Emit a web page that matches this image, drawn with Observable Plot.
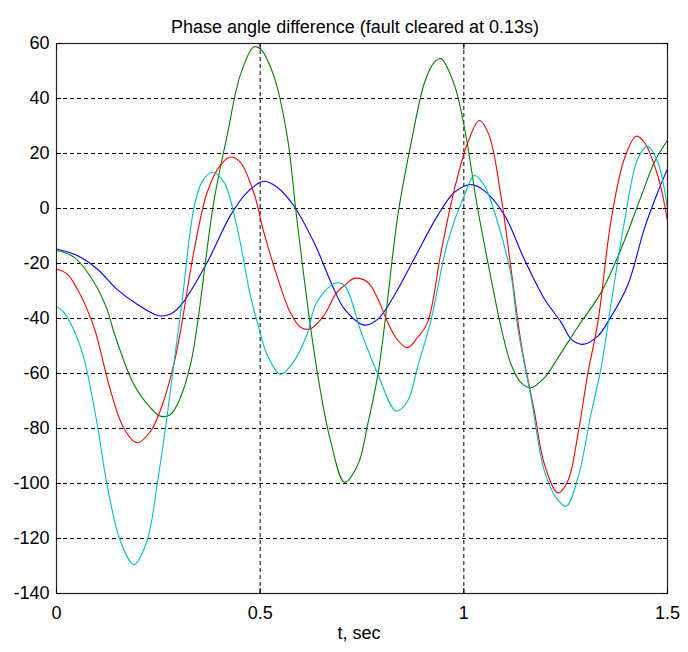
<!DOCTYPE html>
<html>
<head>
<meta charset="utf-8">
<script src="https://cdn.jsdelivr.net/npm/d3@7"></script>
<script src="https://cdn.jsdelivr.net/npm/@observablehq/plot@0.6"></script>
<style>
  html, body { margin: 0; padding: 0; background: #fff; }
</style>
</head>
<body>
<div id="chart"></div>
<script>
const titleText = "Phase angle difference (fault cleared at 0.13s)";
const xLabelText = "t, sec";
const xTicks = [0, 0.5, 1, 1.5];
const yTicks = [-140, -120, -100, -80, -60, -40, -20, 0, 20, 40, 60];

const blueT = [0,0.051,0.1,0.148,0.197,0.251,0.28,0.308,0.37,0.427,0.468,0.509,0.541,0.582,0.632,0.681,0.707,0.756,0.789,0.829,0.878,0.936,0.977,1.018,1.05,1.1,1.148,1.198,1.239,1.264,1.292,1.329,1.353,1.402,1.443,1.476,1.5];
const blueV = [-14.7,-17.1,-22,-29.3,-34.7,-39,-38.4,-34.7,-19.6,-2.5,5.9,9.9,7.8,1.1,-12.3,-29.3,-36.6,-42.4,-40.2,-31.7,-18.3,-2.5,5.9,8.7,6.5,-2.5,-18.3,-32.9,-41.4,-47.6,-49.4,-46.4,-41.4,-28,-7.4,5.9,14.4];

const greenT = [0,0.043,0.092,0.124,0.141,0.19,0.231,0.255,0.28,0.304,0.329,0.345,0.386,0.419,0.451,0.484,0.5,0.533,0.566,0.59,0.623,0.648,0.673,0.707,0.74,0.764,0.789,0.805,0.838,0.871,0.904,0.928,0.944,0.977,1.002,1.034,1.067,1.091,1.116,1.141,1.165,1.198,1.231,1.28,1.337,1.386,1.436,1.468,1.5];
const greenV = [-15.3,-17.7,-26.8,-36.6,-45,-64,-72.5,-75.5,-74.9,-68.8,-56.7,-43,2.3,26.6,48.4,58.7,58.1,48.4,26.6,-3.8,-42.4,-66.4,-84.6,-99.5,-93.1,-78.5,-60.3,-43,-2.5,24.1,46,53.3,54.5,44.8,29,-0.1,-25.6,-43,-56.7,-63.4,-65.2,-61.5,-54.3,-43,-30.5,-14.7,4.7,16.9,24.8];

const redT = [0,0.026,0.051,0.075,0.096,0.108,0.133,0.165,0.197,0.231,0.263,0.288,0.304,0.337,0.37,0.402,0.427,0.451,0.484,0.509,0.541,0.574,0.599,0.623,0.656,0.688,0.707,0.731,0.764,0.789,0.813,0.838,0.862,0.886,0.911,0.944,0.977,1.01,1.038,1.062,1.091,1.116,1.141,1.173,1.198,1.231,1.255,1.28,1.304,1.329,1.362,1.394,1.423,1.443,1.476,1.5];
const redV = [-22,-23.8,-29.3,-36.6,-45,-51.9,-66.4,-79.8,-85.2,-81,-70,-56.7,-45,-15.9,5.9,15.7,18.7,16.9,5.9,-8.6,-24.4,-37.8,-43.2,-43.8,-39,-30.5,-28,-25.4,-26.8,-32.9,-41.4,-48,-50.6,-47,-41.4,-15.9,7.1,24.1,32,26.6,4.7,-22,-49.4,-73.7,-93.1,-103.4,-99.2,-82.2,-60.3,-41.4,-3.8,18.1,26.3,24.1,12,-4.4];

const cyanT = [0,0.018,0.043,0.067,0.1,0.124,0.157,0.19,0.222,0.247,0.271,0.288,0.308,0.337,0.357,0.382,0.411,0.444,0.476,0.497,0.517,0.55,0.583,0.615,0.639,0.685,0.707,0.748,0.789,0.834,0.862,0.886,0.92,0.96,1.001,1.026,1.05,1.083,1.116,1.133,1.165,1.198,1.227,1.251,1.28,1.312,1.337,1.362,1.394,1.427,1.451,1.476,1.5];
const cyanV = [-35.6,-37.8,-44.4,-54.3,-78.5,-100.4,-121,-129.5,-121,-100.4,-76.1,-56.7,-34.1,-0.1,9.6,13.2,9.6,-7.4,-31.7,-43.5,-53.1,-60.3,-55.5,-45.8,-34.1,-27.1,-28,-45,-60.3,-73.7,-70,-57.9,-40.2,-12.3,4.7,12,8.4,-5,-24.4,-44,-68.8,-95.6,-105.2,-108.3,-98,-74.9,-57.9,-34.1,-5,18.1,22.6,16.9,-0.1];

const series = [
  {t: blueT, v: blueV, color: "#0000ff"},
  {t: greenT, v: greenV, color: "#008000"},
  {t: redT, v: redV, color: "#ff0000"},
  {t: cyanT, v: cyanV, color: "#00bfbf"}
];

const font = "'Liberation Sans', Arial, Helvetica, sans-serif";
const noText = () => "";

const chart = Plot.plot({
  width: 688,
  height: 652,
  marginLeft: 56,
  marginRight: 21,
  marginTop: 43,
  marginBottom: 59,
  style: {fontFamily: font, fontSize: "18px", background: "#fff", color: "#000", overflow: "visible"},
  x: {domain: [0, 1.5], label: null},
  y: {domain: [-140, 60], label: null},
  marks: [
    Plot.gridX(xTicks, {stroke: "#000", strokeOpacity: 1, strokeWidth: 1, strokeDasharray: "4,3"}),
    Plot.gridY(yTicks, {stroke: "#000", strokeOpacity: 1, strokeWidth: 1, strokeDasharray: "4,3"}),
    ...series.map(s => Plot.line(s.v, {x: s.t, y: s.v, stroke: s.color, strokeWidth: 1.1, curve: "catmull-rom"})),
    Plot.frame({stroke: "#222", strokeWidth: 1.2}),
    Plot.axisX(xTicks, {anchor: "bottom", tickSize: 0, tickPadding: 13, fontSize: 18, label: null, tickFormat: d => String(d)}),
    Plot.axisY(yTicks, {anchor: "left", tickSize: 0, tickPadding: 7, fontSize: 18, label: null, tickFormat: d => String(d)}),
    Plot.axisX(xTicks, {anchor: "bottom", tickSize: -5, tickFormat: noText, label: null, stroke: "#000"}),
    Plot.axisX(xTicks, {anchor: "top", tickSize: -5, tickFormat: noText, label: null, stroke: "#000"}),
    Plot.axisY(yTicks, {anchor: "left", tickSize: -5, tickFormat: noText, label: null, stroke: "#000"}),
    Plot.axisY(yTicks, {anchor: "right", tickSize: -5, tickFormat: noText, label: null, stroke: "#000"}),
    Plot.text([titleText], {frameAnchor: "top", dy: -23, dx: -7, fontSize: 18, fill: "#000"}),
    Plot.text([xLabelText], {frameAnchor: "bottom", dy: 45, dx: -3, fontSize: 18, fill: "#000"})
  ]
});
document.getElementById("chart").appendChild(chart);
</script>
</body>
</html>
